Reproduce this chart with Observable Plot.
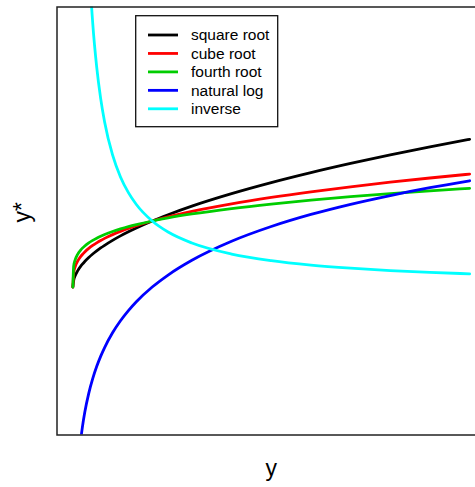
<!DOCTYPE html>
<html>
<head>
<meta charset="utf-8">
<script src="https://cdn.jsdelivr.net/npm/d3@7"></script>
<script src="https://cdn.jsdelivr.net/npm/@observablehq/plot@0.6"></script>
<style>
  html, body { margin: 0; padding: 0; background: white; overflow: hidden; }
  #chart svg { overflow: hidden; max-width: none; }
</style>
</head>
<body>
<div id="chart"></div>
<script>
// Untransformed values y (horizontal axis)
const yGrid = [0, 0.01, 0.03, 0.06, 0.1, 0.12, 0.15, 0.2, 0.25, 0.3, 0.35, 0.4, 0.5, 0.6, 0.7, 0.8, 1, 1.2, 1.5, 2, 2.5, 3, 3.5, 4, 4.5, 5];
// Transformed values y* for each series
const squareRoot = [0, 0.1, 0.173, 0.245, 0.316, 0.346, 0.387, 0.447, 0.5, 0.548, 0.592, 0.632, 0.707, 0.775, 0.837, 0.894, 1, 1.095, 1.225, 1.414, 1.581, 1.732, 1.871, 2, 2.121, 2.236];
const cubeRoot = [0, 0.215, 0.311, 0.391, 0.464, 0.493, 0.531, 0.585, 0.630, 0.669, 0.705, 0.737, 0.794, 0.843, 0.888, 0.928, 1, 1.063, 1.145, 1.260, 1.357, 1.442, 1.518, 1.587, 1.651, 1.710];
const fourthRoot = [0, 0.316, 0.416, 0.495, 0.562, 0.589, 0.622, 0.669, 0.707, 0.740, 0.769, 0.795, 0.841, 0.880, 0.915, 0.946, 1, 1.047, 1.107, 1.189, 1.257, 1.316, 1.368, 1.414, 1.456, 1.495];
const naturalLog = [null, null, null, null, -2.303, -2.120, -1.897, -1.609, -1.386, -1.204, -1.050, -0.916, -0.693, -0.511, -0.357, -0.223, 0, 0.182, 0.405, 0.693, 0.916, 1.099, 1.253, 1.386, 1.504, 1.609];
const inverse = [null, null, null, null, null, null, 6.667, 5, 4, 3.333, 2.857, 2.5, 2, 1.667, 1.429, 1.25, 1, 0.833, 0.667, 0.5, 0.4, 0.333, 0.286, 0.25, 0.222, 0.2];

const seriesNames = ["square root", "cube root", "fourth root", "natural log", "inverse"];
const seriesValues = [squareRoot, cubeRoot, fourthRoot, naturalLog, inverse];
const seriesColors = ["#000000", "#FF0000", "#00CD00", "#0000FF", "#00FFFF"];

const xLabel = "y";
const yLabel = "y*";

const FONT = "'Liberation Sans', Arial, Helvetica, sans-serif";

const lineMarks = seriesValues.map((vals, i) => {
  const rows = yGrid.map((y, j) => ({y, v: vals[j]}));
  return Plot.line(rows, {
    x: "y", y: "v", stroke: seriesColors[i], strokeWidth: 2.8,
    curve: "monotone-x", clip: true, strokeLinejoin: "round"
  });
});

const chart = Plot.plot({
  width: 475,
  height: 487,
  marginLeft: 56.5,
  marginRight: -10,
  marginTop: 6.5,
  marginBottom: 52.5,
  style: {fontFamily: FONT, fontSize: "15.5px", color: "black", background: "white", overflow: "hidden"},
  x: {domain: [-0.2, 5.2], axis: null},
  y: {domain: [-2.24, 4.24], axis: null},
  marks: [
    ...lineMarks,
    Plot.frame({stroke: "#222", strokeWidth: 1.5}),
    Plot.text([xLabel], {text: d => d, frameAnchor: "bottom", dy: 41, fontSize: 23, fill: "black"}),
    Plot.text([yLabel], {text: d => d, frameAnchor: "left", dx: -34, dy: 1.5, rotate: -90, fontSize: 23, fill: "black"})
  ]
});

document.getElementById("chart").appendChild(chart);

// Legend box (top-left inside plot)
const svg = d3.select(chart);
const lg = svg.append("g").attr("transform", "translate(135.7,15.7)");
lg.append("rect").attr("x", 0).attr("y", 0).attr("width", 142).attr("height", 111)
  .attr("fill", "white").attr("stroke", "#111").attr("stroke-width", 1.3);
seriesNames.forEach((name, i) => {
  const cy = 19.3 + i * 18.45;
  lg.append("line").attr("x1", 12.3).attr("x2", 42.3).attr("y1", cy).attr("y2", cy)
    .attr("stroke", seriesColors[i]).attr("stroke-width", 2.8);
  lg.append("text").attr("x", 55.3).attr("y", cy).attr("dy", "0.35em")
    .attr("text-anchor", "start")
    .attr("font-size", 15.5).attr("fill", "black")
    .attr("font-family", FONT)
    .text(name);
});
</script>
</body>
</html>
